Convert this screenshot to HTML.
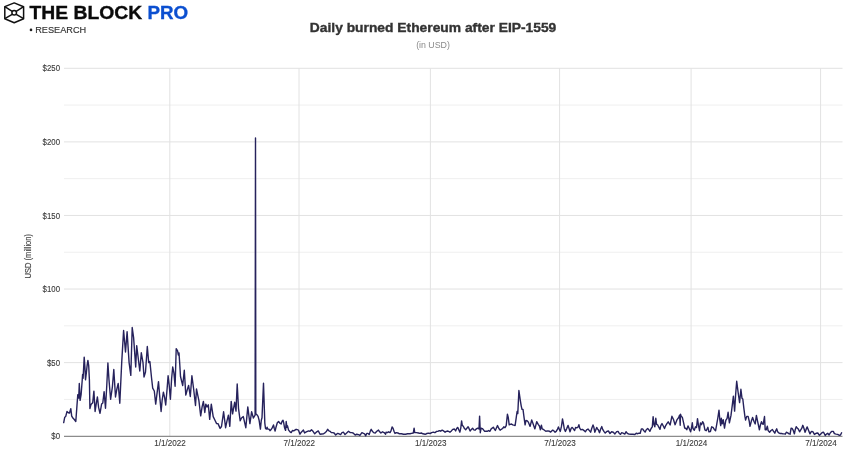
<!DOCTYPE html>
<html><head><meta charset="utf-8"><style>
html,body{margin:0;padding:0;background:#fff;}
body{width:865px;height:470px;overflow:hidden;}
svg{display:block;will-change:transform;}
text{font-family:"Liberation Sans",sans-serif;}
.ax{font-size:9px;fill:#3a3a3a;stroke:#3a3a3a;stroke-width:0.12px;}
.yt{font-size:8.6px;fill:#444;stroke:#444;stroke-width:0.12px;}
.title{font-size:12.6px;font-weight:bold;fill:#333;stroke:#333;stroke-width:0.35px;}
.sub{font-size:8.8px;fill:#8a8a8a;}
.logo{font-size:18.6px;font-weight:bold;fill:#0a0a0a;stroke:#0a0a0a;stroke-width:0.35px;}
.res{font-size:9.3px;fill:#333;stroke:#333;stroke-width:0.15px;}
</style></head><body>
<svg width="865" height="470" viewBox="0 0 865 470">
<rect width="865" height="470" fill="#fff"/>
<line x1="64.0" y1="399.41" x2="842.5" y2="399.41" stroke="#efefef" stroke-width="1"/>
<line x1="64.0" y1="362.62" x2="842.5" y2="362.62" stroke="#e2e2e2" stroke-width="1"/>
<line x1="64.0" y1="325.83" x2="842.5" y2="325.83" stroke="#efefef" stroke-width="1"/>
<line x1="64.0" y1="289.04" x2="842.5" y2="289.04" stroke="#e2e2e2" stroke-width="1"/>
<line x1="64.0" y1="252.25" x2="842.5" y2="252.25" stroke="#efefef" stroke-width="1"/>
<line x1="64.0" y1="215.46" x2="842.5" y2="215.46" stroke="#e2e2e2" stroke-width="1"/>
<line x1="64.0" y1="178.67" x2="842.5" y2="178.67" stroke="#efefef" stroke-width="1"/>
<line x1="64.0" y1="141.88" x2="842.5" y2="141.88" stroke="#e2e2e2" stroke-width="1"/>
<line x1="64.0" y1="105.09" x2="842.5" y2="105.09" stroke="#efefef" stroke-width="1"/>
<line x1="64.0" y1="68.30" x2="842.5" y2="68.30" stroke="#e2e2e2" stroke-width="1"/>
<line x1="169.8" y1="68.30" x2="169.8" y2="436.20" stroke="#e2e2e2" stroke-width="1"/>
<line x1="299.0" y1="68.30" x2="299.0" y2="436.20" stroke="#e2e2e2" stroke-width="1"/>
<line x1="430.4" y1="68.30" x2="430.4" y2="436.20" stroke="#e2e2e2" stroke-width="1"/>
<line x1="559.6" y1="68.30" x2="559.6" y2="436.20" stroke="#e2e2e2" stroke-width="1"/>
<line x1="691.1" y1="68.30" x2="691.1" y2="436.20" stroke="#e2e2e2" stroke-width="1"/>
<line x1="820.6" y1="68.30" x2="820.6" y2="436.20" stroke="#e2e2e2" stroke-width="1"/>
<line x1="64.0" y1="436.30" x2="842.5" y2="436.30" stroke="#707070" stroke-width="1"/>
<text x="60.0" y="439.30" text-anchor="end" textLength="8.71" lengthAdjust="spacingAndGlyphs" class="ax">$0</text>
<text x="60.0" y="365.72" text-anchor="end" textLength="13.06" lengthAdjust="spacingAndGlyphs" class="ax">$50</text>
<text x="60.0" y="292.14" text-anchor="end" textLength="17.41" lengthAdjust="spacingAndGlyphs" class="ax">$100</text>
<text x="60.0" y="218.56" text-anchor="end" textLength="17.41" lengthAdjust="spacingAndGlyphs" class="ax">$150</text>
<text x="60.0" y="144.98" text-anchor="end" textLength="17.41" lengthAdjust="spacingAndGlyphs" class="ax">$200</text>
<text x="60.0" y="71.40" text-anchor="end" textLength="17.41" lengthAdjust="spacingAndGlyphs" class="ax">$250</text>
<text x="170.10000000000002" y="446.4" text-anchor="middle" textLength="31.53" lengthAdjust="spacingAndGlyphs" class="ax">1/1/2022</text>
<text x="299.3" y="446.4" text-anchor="middle" textLength="31.53" lengthAdjust="spacingAndGlyphs" class="ax">7/1/2022</text>
<text x="430.7" y="446.4" text-anchor="middle" textLength="31.53" lengthAdjust="spacingAndGlyphs" class="ax">1/1/2023</text>
<text x="559.9" y="446.4" text-anchor="middle" textLength="31.53" lengthAdjust="spacingAndGlyphs" class="ax">7/1/2023</text>
<text x="691.4" y="446.4" text-anchor="middle" textLength="31.53" lengthAdjust="spacingAndGlyphs" class="ax">1/1/2024</text>
<text x="820.9" y="446.4" text-anchor="middle" textLength="31.53" lengthAdjust="spacingAndGlyphs" class="ax">7/1/2024</text>
<text transform="translate(31.0,256.2) rotate(-90)" text-anchor="middle" textLength="44.5" lengthAdjust="spacingAndGlyphs" class="yt">USD (million)</text>
<path d="M63.7,422.6 L64.7,417.4 L65.8,416.2 L67.0,411.5 L68.4,412.7 L69.5,413.0 L70.8,408.6 L71.7,416.2 L72.9,418.0 L74.3,419.5 L75.8,421.5 L77.0,405.1 L77.8,394.6 L78.7,398.1 L79.3,383.5 L80.1,400.4 L81.1,394.6 L82.2,380.5 L82.6,374.5 L83.1,378.3 L84.2,357.1 L84.9,367.1 L85.5,379.8 L86.4,372.3 L87.2,364.9 L87.9,360.4 L88.7,365.6 L89.4,379.8 L89.9,408.6 L91.0,404.5 L92.7,402.7 L93.9,391.1 L95.1,411.5 L96.3,403.3 L97.4,396.9 L98.6,407.4 L100.0,413.3 L101.6,404.1 L102.8,403.0 L104.1,391.6 L105.5,408.3 L106.8,385.0 L107.9,363.0 L109.0,380.0 L110.6,399.3 L112.4,386.8 L113.8,369.5 L115.5,397.0 L116.9,388.9 L118.2,383.5 L119.8,403.2 L121.7,362.6 L123.6,330.5 L125.5,352.0 L127.1,331.7 L129.1,362.6 L130.8,375.4 L132.2,327.5 L133.6,337.5 L135.7,367.0 L136.7,345.6 L138.4,359.5 L139.8,371.0 L141.3,352.8 L143.0,362.6 L144.0,377.0 L145.5,372.0 L147.3,346.5 L148.7,362.6 L149.9,361.6 L151.5,377.5 L152.7,388.2 L154.3,391.0 L155.7,404.1 L158.5,381.6 L159.6,395.1 L161.1,411.5 L162.2,399.8 L163.4,392.2 L164.6,397.4 L165.7,405.0 L167.1,388.7 L168.1,375.8 L169.2,385.1 L170.4,399.2 L171.6,379.0 L172.7,367.0 L173.9,372.9 L175.1,386.3 L176.2,348.7 L177.6,350.8 L178.3,355.0 L179.0,352.9 L179.7,363.3 L180.5,376.5 L182.7,385.5 L184.3,370.2 L185.8,395.1 L187.5,388.9 L188.6,385.4 L190.3,396.5 L191.9,375.8 L193.7,389.5 L195.5,405.5 L196.5,389.0 L197.9,395.8 L198.9,400.7 L200.7,415.9 L202.1,406.9 L203.4,401.4 L204.8,412.5 L205.8,404.1 L207.0,407.0 L208.3,404.8 L209.7,419.4 L211.3,404.1 L213.2,416.6 L215.2,420.8 L216.6,423.6 L218.0,423.6 L220.1,428.4 L221.5,426.5 L223.6,411.8 L225.6,427.7 L227.0,420.8 L228.4,415.2 L229.8,426.3 L231.2,401.4 L232.6,413.8 L234.7,402.1 L236.0,411.1 L237.2,384.0 L238.5,408.3 L240.2,420.8 L241.5,418.0 L243.3,416.6 L245.8,427.7 L247.8,406.9 L249.9,423.6 L251.6,411.8 L253.4,418.0 L255.1,415.2 L255.5,138.0 L255.8,413.8 L257.2,415.1 L258.1,416.4 L259.1,420.2 L260.4,429.1 L261.3,420.2 L262.0,417.7 L263.5,383.3 L264.8,422.8 L265.5,428.5 L266.4,429.1 L267.1,427.2 L267.7,429.1 L269.0,429.1 L270.0,430.7 L270.9,429.8 L272.2,427.9 L273.5,425.0 L274.3,428.5 L275.1,431.1 L276.0,427.2 L277.3,422.8 L278.6,421.5 L279.8,423.1 L281.1,424.0 L282.1,421.2 L283.0,420.2 L283.7,422.8 L284.6,427.9 L285.6,430.4 L286.2,421.5 L286.9,427.2 L287.5,425.9 L288.5,429.8 L290.0,431.8 L291.2,432.6 L292.4,430.5 L293.7,430.9 L294.9,430.1 L296.1,429.3 L297.3,429.7 L298.4,430.1 L300.0,434.2 L301.3,432.2 L303.4,430.1 L304.6,433.0 L305.8,432.2 L307.4,431.3 L308.6,430.9 L310.0,431.3 L311.5,429.7 L312.7,430.9 L314.7,433.8 L316.3,432.2 L318.3,430.9 L320.0,434.2 L321.8,434.0 L323.6,433.8 L325.2,432.6 L326.4,431.5 L327.6,429.3 L328.9,430.9 L330.1,431.3 L331.3,432.6 L332.7,432.6 L334.1,433.0 L335.7,435.0 L337.4,433.4 L339.0,433.8 L340.6,434.6 L342.0,432.6 L343.4,432.2 L345.0,434.6 L346.7,433.0 L348.5,431.3 L350.3,432.6 L351.7,432.6 L353.1,433.0 L355.2,435.0 L356.8,434.2 L358.6,434.6 L359.9,435.4 L361.9,432.6 L363.5,433.4 L364.6,433.8 L365.7,435.8 L366.7,433.4 L368.0,433.4 L369.2,434.6 L370.4,430.9 L371.2,429.3 L372.4,431.3 L373.6,432.6 L375.2,433.0 L376.8,431.3 L378.5,430.1 L379.7,431.8 L380.9,433.0 L382.5,431.8 L384.1,432.6 L385.6,434.2 L386.1,432.2 L387.4,432.6 L388.6,431.8 L390.0,432.6 L391.0,430.9 L392.1,426.9 L393.0,428.1 L394.2,431.8 L395.0,433.4 L396.3,432.6 L397.9,433.0 L399.5,433.8 L401.5,433.8 L403.5,434.2 L405.6,434.2 L407.6,433.8 L410.0,433.8 L411.6,433.4 L413.3,433.0 L414.1,428.1 L414.7,432.6 L416.5,432.6 L418.5,433.0 L419.7,433.4 L421.3,433.0 L423.0,433.8 L425.2,434.3 L426.9,433.5 L428.5,433.1 L430.1,433.5 L431.7,432.7 L433.3,432.2 L434.9,432.7 L436.6,431.4 L438.2,431.2 L439.4,430.6 L440.6,431.2 L442.2,430.1 L443.5,430.9 L445.1,432.2 L446.3,431.4 L447.9,431.0 L449.9,432.2 L451.1,431.2 L452.7,429.4 L454.4,429.0 L455.6,431.0 L456.8,428.2 L457.8,427.4 L458.8,429.8 L459.9,432.2 L460.8,427.8 L461.6,420.9 L462.3,425.4 L463.3,426.2 L464.5,428.6 L465.7,429.8 L466.9,428.2 L468.1,426.8 L468.9,428.2 L470.1,431.0 L471.4,429.4 L472.6,428.2 L473.8,429.8 L475.0,430.2 L476.2,429.0 L477.8,428.2 L479.0,429.0 L479.6,416.1 L480.3,432.7 L481.1,428.2 L482.3,428.6 L483.5,429.8 L484.7,431.4 L485.9,431.2 L487.5,431.2 L488.5,430.5 L489.8,431.3 L491.2,428.9 L493.3,427.2 L494.3,428.9 L495.3,430.5 L496.5,427.7 L497.5,425.6 L498.9,428.5 L500.1,430.2 L501.3,429.3 L502.6,428.5 L503.8,426.8 L505.0,427.7 L506.2,425.6 L507.4,414.3 L508.2,417.1 L509.2,424.8 L510.2,424.4 L511.5,424.0 L512.7,424.8 L513.9,425.2 L515.1,425.6 L516.3,417.1 L517.1,411.5 L517.8,413.5 L518.9,390.5 L520.3,400.3 L521.2,405.8 L522.0,409.4 L523.0,409.4 L524.0,417.1 L525.1,424.8 L526.0,420.4 L527.2,420.8 L528.5,422.4 L530.1,426.4 L531.7,420.0 L532.9,423.2 L534.9,428.9 L536.7,421.6 L538.2,424.4 L539.4,426.0 L540.4,429.7 L541.4,425.2 L542.2,428.9 L543.8,429.7 L545.8,431.3 L547.9,430.9 L549.5,431.3 L550.7,432.1 L552.7,430.1 L553.9,430.9 L555.1,432.2 L556.2,431.4 L557.4,429.4 L558.4,427.0 L559.4,429.4 L560.3,431.4 L561.5,426.2 L562.5,418.9 L563.5,424.2 L564.3,429.0 L565.4,431.4 L566.7,428.6 L568.1,425.4 L569.2,429.0 L570.0,431.8 L571.2,428.2 L572.2,427.4 L573.2,428.6 L574.6,430.6 L575.6,427.4 L576.8,427.8 L578.1,427.0 L578.9,424.6 L579.7,428.2 L580.9,429.8 L582.5,429.4 L584.1,430.6 L585.3,431.8 L586.6,429.8 L588.0,429.0 L589.4,430.6 L590.6,432.2 L591.8,428.2 L593.0,425.0 L593.8,427.0 L594.8,432.2 L595.9,429.4 L596.7,427.4 L597.5,429.0 L598.3,429.8 L599.5,432.7 L600.7,429.0 L601.8,426.6 L602.7,429.4 L603.9,431.4 L605.2,433.1 L606.8,431.4 L608.4,431.0 L610.0,433.5 L611.6,431.8 L613.3,432.2 L614.9,433.9 L616.5,431.8 L618.1,431.4 L619.3,433.5 L620.5,434.3 L621.7,432.7 L623.0,433.1 L624.8,434.1 L626.0,431.7 L627.3,433.3 L628.9,434.1 L630.9,434.3 L632.9,434.3 L634.9,434.5 L636.2,433.3 L637.8,433.7 L639.0,433.2 L640.2,433.3 L641.4,428.9 L642.6,428.9 L643.7,430.5 L645.1,432.1 L646.3,429.7 L647.7,428.5 L649.1,430.1 L649.9,431.3 L651.1,428.5 L652.3,426.8 L653.1,416.7 L654.0,424.8 L654.8,426.8 L655.8,418.3 L656.6,424.4 L657.6,424.8 L658.8,427.2 L660.0,429.3 L660.8,425.6 L662.0,423.6 L663.3,426.0 L664.5,428.5 L665.7,425.6 L666.9,423.6 L668.2,421.8 L670.1,425.0 L671.9,416.3 L673.4,419.3 L675.1,424.7 L676.9,419.9 L678.7,417.5 L679.6,415.1 L680.2,425.3 L680.5,414.3 L681.2,416.3 L682.3,417.2 L683.5,422.3 L684.7,428.0 L685.9,428.5 L686.8,429.7 L688.0,425.9 L689.1,428.2 L690.6,431.8 L691.5,428.0 L692.3,422.8 L693.0,428.5 L694.3,430.2 L695.5,426.8 L696.5,427.5 L697.5,418.7 L698.5,425.6 L699.5,430.7 L700.4,423.0 L701.5,424.7 L702.6,421.7 L703.6,423.4 L704.9,429.8 L706.2,430.7 L707.9,427.3 L708.9,431.9 L710.4,431.5 L711.7,426.8 L713.0,427.3 L714.3,429.4 L715.6,430.7 L716.8,423.9 L717.9,417.5 L719.0,410.2 L719.8,419.6 L720.7,425.6 L721.3,418.3 L722.2,423.9 L723.2,419.6 L724.5,428.1 L725.8,420.4 L727.1,418.3 L728.1,412.3 L729.4,422.8 L731.0,415.4 L732.6,402.6 L733.4,396.2 L734.6,411.1 L735.6,395.1 L736.7,381.3 L738.2,393.0 L739.6,402.6 L740.9,389.3 L742.0,398.3 L742.8,399.0 L743.8,407.9 L744.9,416.4 L745.6,420.1 L746.7,416.4 L748.1,416.4 L749.2,421.0 L750.0,426.4 L751.3,421.3 L752.6,417.5 L753.9,421.3 L755.2,423.9 L756.4,415.4 L757.4,420.3 L758.4,425.0 L759.4,429.8 L760.4,425.0 L761.5,421.6 L762.2,423.7 L763.2,424.3 L764.5,416.5 L765.2,429.8 L766.2,429.8 L767.3,426.1 L768.1,430.5 L769.6,432.2 L771.0,430.5 L772.4,429.5 L773.4,431.2 L774.8,433.2 L775.8,430.5 L776.7,428.8 L777.5,431.5 L778.8,432.9 L780.2,433.5 L781.6,433.5 L782.9,433.9 L784.3,433.9 L785.3,434.2 L786.3,432.2 L787.7,432.9 L789.1,433.9 L790.1,434.2 L791.1,428.1 L792.1,428.4 L793.1,430.1 L794.4,433.9 L795.2,429.8 L796.2,426.7 L797.2,428.1 L798.3,429.1 L799.6,431.8 L800.6,430.1 L801.7,428.4 L802.8,425.3 L803.9,428.3 L805.1,432.2 L806.1,429.4 L807.2,426.9 L808.3,429.7 L810.0,433.9 L811.1,431.9 L811.9,431.4 L813.0,431.9 L814.4,434.4 L816.1,433.3 L817.8,433.0 L819.4,435.3 L820.8,433.9 L822.2,432.5 L823.6,432.2 L825.2,435.5 L826.4,434.1 L827.7,433.3 L829.1,435.0 L830.5,432.5 L831.9,431.4 L833.3,431.4 L834.4,433.6 L836.1,434.1 L837.7,434.4 L839.4,435.3 L840.5,435.0 L841.6,432.8" fill="none" stroke="#26225c" stroke-width="1.4" stroke-linejoin="round" stroke-linecap="round"/>
<text x="309.8" y="32.4" textLength="246.5" lengthAdjust="spacingAndGlyphs" class="title">Daily burned Ethereum after EIP-1559</text>
<text x="433" y="47.7" text-anchor="middle" class="sub">(in USD)</text>

<g fill="none" stroke="#111" stroke-width="1.5" stroke-linejoin="round">
<path d="M14.2,2.9 L23.6,6.7 L23.6,18.7 L14.2,22.8 L4.8,18.7 L4.8,6.6 Z"/>
<path d="M4.8,6.6 L12.2,11.3 M23.6,6.7 L16.2,11.3 M4.8,18.7 L12.2,14.4 M23.6,18.7 L16.2,14.4"/>
<circle cx="14.2" cy="12.8" r="2.3"/>
</g>
<text x="29.5" y="19.4" class="logo" textLength="112.6" lengthAdjust="spacingAndGlyphs">THE BLOCK</text>
<text x="147.5" y="19.4" class="logo" textLength="40.6" lengthAdjust="spacingAndGlyphs" fill="#0b4fd0" stroke="#0b4fd0" style="fill:#0b4fd0;stroke:#0b4fd0">PRO</text>
<circle cx="31" cy="29.9" r="1.3" fill="#222"/>
<text x="35.2" y="33.1" class="res" textLength="51" lengthAdjust="spacingAndGlyphs">RESEARCH</text>

</svg>
</body></html>
